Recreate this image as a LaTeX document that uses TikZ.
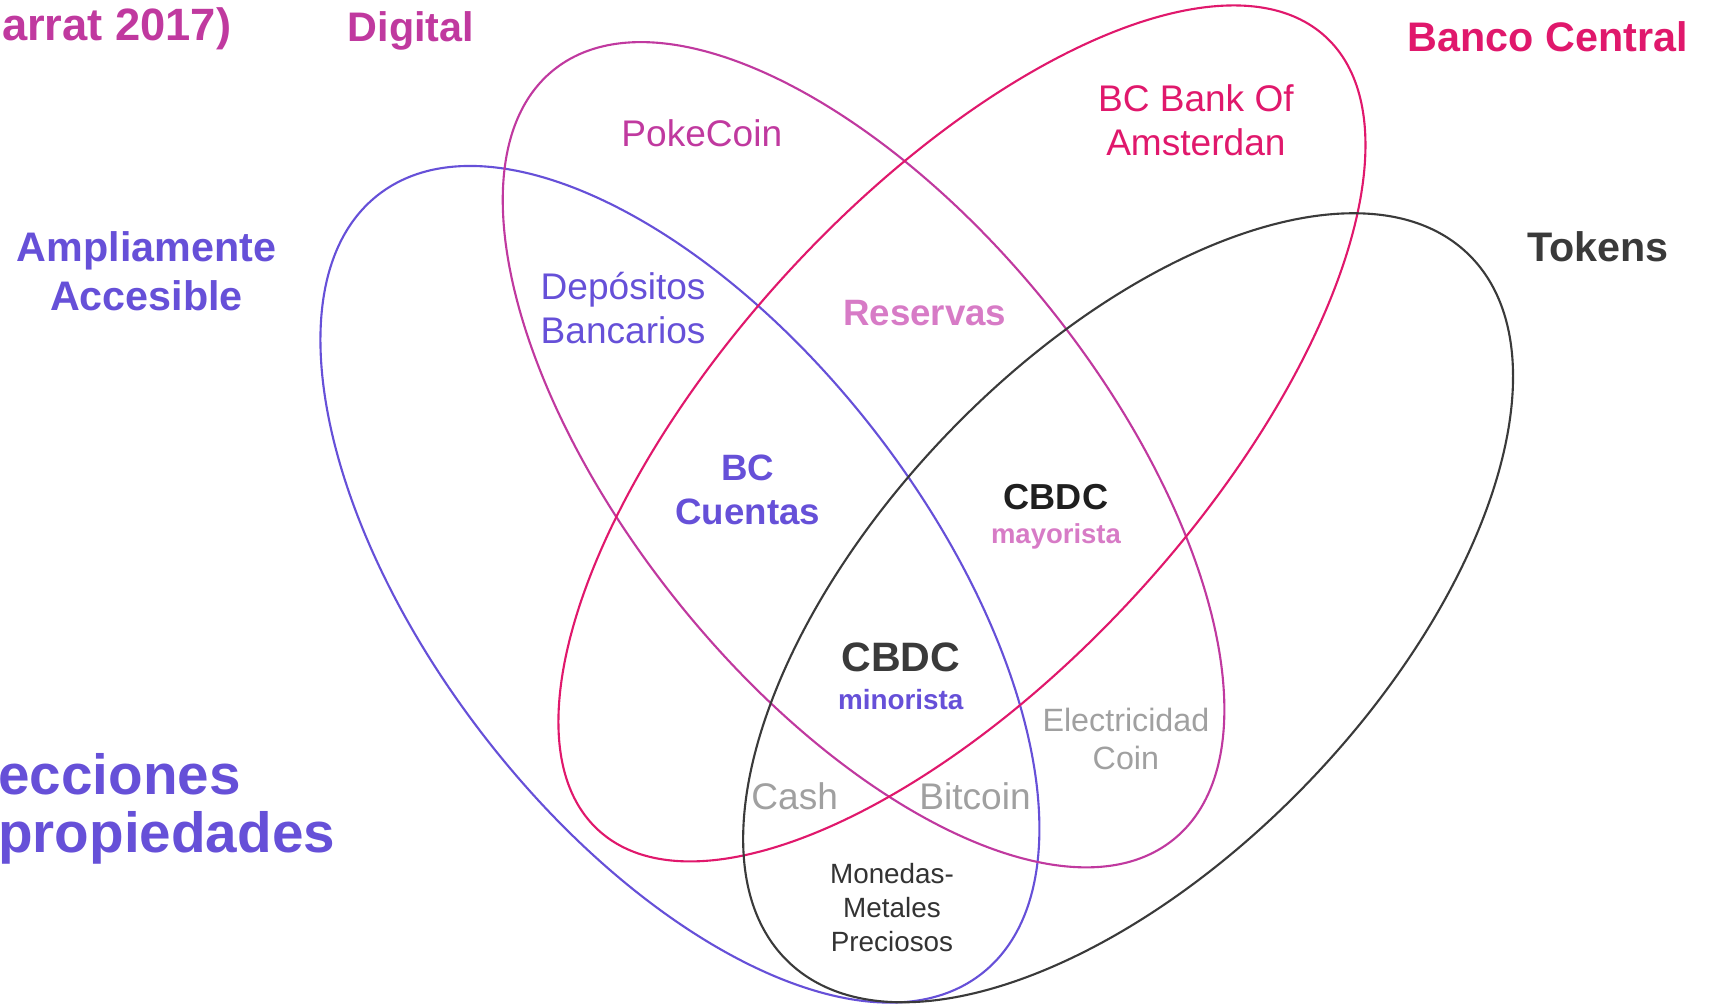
\documentclass[tikz,border=0pt]{standalone}
\usepackage{fontspec}
\setmainfont{Liberation Sans}
\definecolor{acc}{HTML}{6650D8}
\definecolor{dig}{HTML}{C0399F}
\definecolor{bcen}{HTML}{E0186C}
\definecolor{tok}{HTML}{3A3A3A}
\definecolor{orch}{HTML}{D77BC6}
\definecolor{grayt}{HTML}{A0A0A0}
\newcommand{\myfs}[2]{\fontsize{#1}{#2}\selectfont}
\tikzset{
  ring/.style={line width=1.1pt},
  lbl/.style={inner sep=0pt, align=center},
  title/.style={lbl, font=\bfseries\myfs{21.5pt}{25.5pt}},
  item/.style={lbl, font=\myfs{19.3pt}{23pt}},
}
\begin{document}
\begin{tikzpicture}[x=0.02cm,y=-0.02cm]
\useasboundingbox (0,0) rectangle (1568,919);
% ellipses
\draw[ring, acc, rotate around={-52.3:(622,534.5)}] (622,534.5) ellipse [x radius=450.7, y radius=226.7];
\draw[ring, dig, rotate around={-51.15:(790,416)}] (790,416) ellipse [x radius=452, y radius=216.9];
\draw[ring, bcen, rotate around={47.5:(880,396.5)}] (880,396.5) ellipse [x radius=492.3, y radius=217];
\draw[ring, tok, rotate around={46.2:(1032,556)}] (1032,556) ellipse [x radius=448.9, y radius=229.5];
% titles
\node[title, text=dig, anchor=east, font=\bfseries\myfs{23.6pt}{26pt}] (ref) at (212,26) {arrat 2017)};
\node[title, text=dig] (digital) at (376,28) {Digital};
\node[title, text=bcen] (banco) at (1416,34) {Banco Central};
\node[title, text=tok] (tokens) at (1462,226) {Tokens};
\node[title, text=acc] (ampl) at (134,248) {Ampliamente\\Accesible};
\node[lbl, text=acc, anchor=west, align=left, font=\bfseries\myfs{29.5pt}{30.6pt}] (secc) at (-2,740) {ecciones\\propiedades};
% regions
\node[item, text=dig] (poke) at (642,122) {PokeCoin};
\node[item, text=bcen] (bank) at (1094,110) {BC Bank Of\\Amsterdan};
\node[item, text=acc] (depo) at (570,282) {Depósitos\\Bancarios};
\node[lbl, text=orch, font=\bfseries\myfs{19.1pt}{23pt}] (reser) at (846,286) {Reservas};
\node[lbl, text=acc, font=\bfseries\myfs{19.1pt}{23pt}] (bccu) at (684,448) {BC\\Cuentas};
\node[lbl, text=black!88, font=\bfseries\myfs{18.8pt}{22pt}] (cbdcmay) at (966,455) {CBDC};
\node[lbl, text=orch, font=\bfseries\myfs{14.3pt}{17pt}] (may) at (966,491) {mayorista};
\node[lbl, text=tok, font=\bfseries\myfs{21.4pt}{24pt}] (cbdcmin) at (824,601) {CBDC};
\node[lbl, text=acc, font=\bfseries\myfs{14.5pt}{17pt}] (min) at (824,640) {minorista};
\node[lbl, text=grayt, font=\myfs{16.8pt}{19.8pt}] (elec) at (1030,676) {Electricidad\\Coin};
\node[item, text=grayt] (cash) at (727,728) {Cash};
\node[item, text=grayt] (btc) at (892,728) {Bitcoin};
\node[lbl, text=black!80, font=\myfs{14.5pt}{17.6pt}] (mon) at (816,830) {Monedas-\\Metales\\Preciosos};
\end{tikzpicture}
\end{document}
